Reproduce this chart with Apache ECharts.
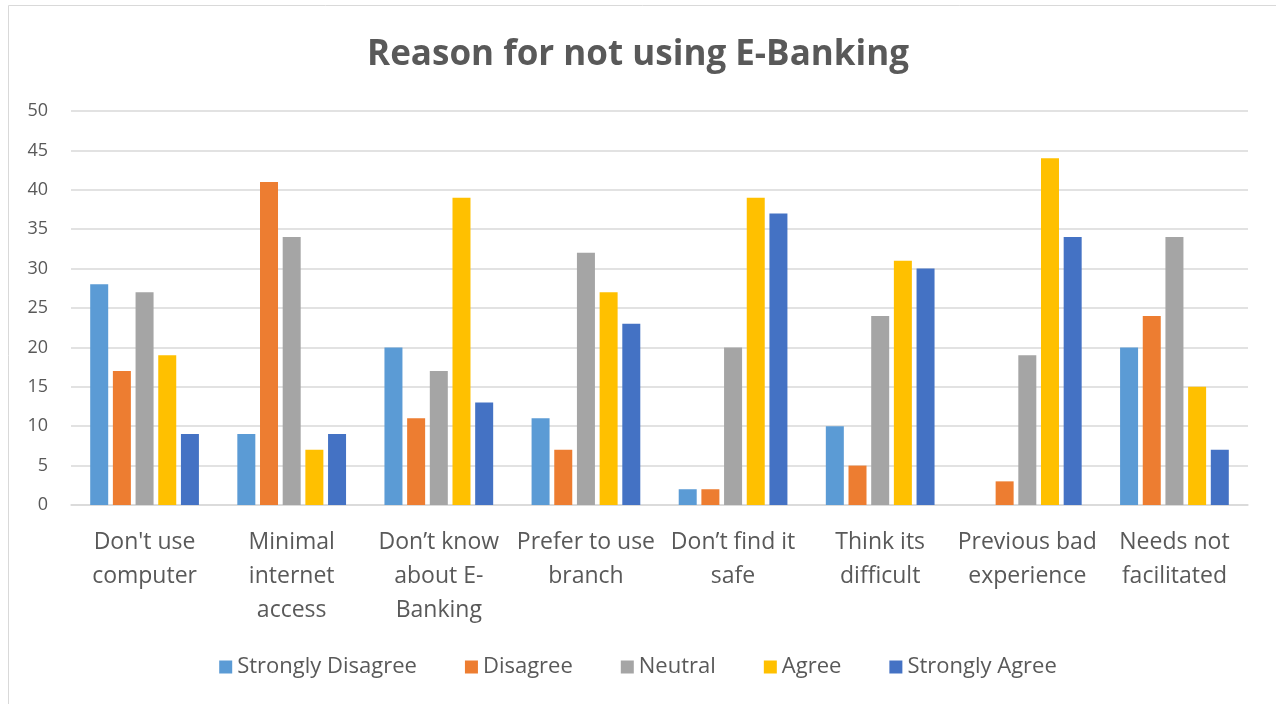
<!DOCTYPE html>
<html>
<head>
<meta charset="utf-8">
<script src="https://cdn.jsdelivr.net/npm/echarts@6/dist/echarts.min.js"></script>
<style>html,body{margin:0;padding:0;background:#fff}#c{width:1276px;height:704px}</style>
</head>
<body>
<div id="c"></div>
<script>
const categories = ["Don't use\ncomputer", "Minimal\ninternet\naccess", "Don\u2019t know\nabout E-\nBanking", "Prefer to use\nbranch", "Don\u2019t find it\nsafe", "Think its\ndifficult", "Previous bad\nexperience", "Needs not\nfacilitated"];
const seriesNames = ["Strongly Disagree", "Disagree", "Neutral", "Agree", "Strongly Agree"];
const stronglyDisagree = [28, 9, 20, 11, 2, 10, 0, 20];
const disagree = [17, 41, 11, 7, 2, 5, 3, 24];
const neutral = [27, 34, 17, 32, 20, 24, 19, 34];
const agree = [19, 7, 39, 27, 39, 31, 44, 15];
const stronglyAgree = [9, 9, 13, 23, 37, 30, 34, 7];
const colors = ["#5B9BD5", "#ED7D31", "#A5A5A5", "#FFC000", "#4472C4"];
const values = [stronglyDisagree, disagree, neutral, agree, stronglyAgree];

const chart = echarts.init(document.getElementById('c'));
const font = "'Open Sans', 'Noto Sans', sans-serif";
chart.setOption({
  animation: false,
  textStyle: {fontFamily: font},
  title: {
    text: 'Reason for not using E-Banking',
    left: 'center', top: 33,
    textStyle: {fontSize: 35, fontWeight: 'bold', color: '#595959', fontFamily: font}
  },
  graphic: [{
    type: 'rect', shape: {x: 8.5, y: 5.5, width: 1300, height: 720},
    style: {fill: 'none', stroke: '#D9D9D9', lineWidth: 1}, silent: true
  }],
  legend: {
    bottom: 21, left: 'center',
    itemWidth: 13, itemHeight: 13, itemGap: 48,
    icon: 'rect',
    textStyle: {fontSize: 22, color: '#595959', fontFamily: font},
    data: seriesNames
  },
  grid: {left: 71, right: 28, top: 111, bottom: 199},
  xAxis: {
    type: 'category', data: categories,
    axisLine: {lineStyle: {color: '#D9D9D9', width: 1.5}},
    axisTick: {show: false},
    axisLabel: {fontSize: 23, color: '#595959', lineHeight: 34, margin: 20, interval: 0, fontFamily: font}
  },
  yAxis: {
    type: 'value', min: 0, max: 50, interval: 5,
    axisLine: {show: false}, axisTick: {show: false},
    axisLabel: {fontSize: 18, color: '#595959', margin: 23, fontFamily: font},
    splitLine: {lineStyle: {color: '#D9D9D9', width: 1.5}}
  },
  series: seriesNames.map((n, i) => ({
    name: n, type: 'bar', data: values[i],
    barWidth: 18, barGap: '26%',
    itemStyle: {color: colors[i]}
  }))
});
</script>
</body>
</html>
